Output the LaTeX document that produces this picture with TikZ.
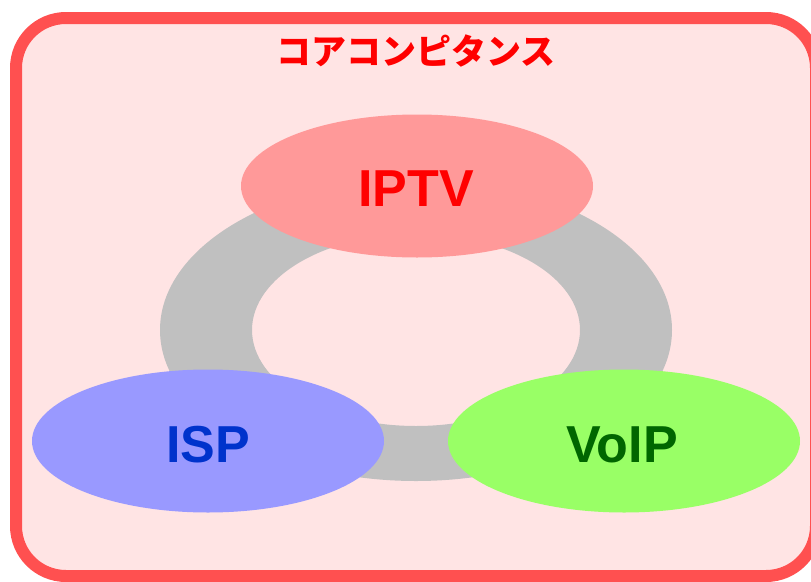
\documentclass[tikz,border=0pt]{standalone}
\usepackage{fontspec}
\setmainfont{Liberation Sans}
\newfontfamily\cjkfont{Noto Sans CJK JP}
\usetikzlibrary{shapes.geometric}
\definecolor{framered}{RGB}{255,80,80}
\definecolor{framefill}{RGB}{255,228,228}
\definecolor{ringgray}{RGB}{192,192,192}
\definecolor{iptvfill}{RGB}{255,153,153}
\definecolor{ispfill}{RGB}{153,153,255}
\definecolor{voipfill}{RGB}{153,255,102}
\definecolor{isptext}{RGB}{0,51,204}
\definecolor{voiptext}{RGB}{0,102,0}
\tikzset{
  blob/.style={ellipse, draw=none, minimum width=352pt, minimum height=143pt, inner sep=0pt},
  blobtext/.style={font=\fontsize{52}{58}\selectfont\bfseries},
}
\begin{document}
\begin{tikzpicture}[x=1pt,y=-1pt]
\useasboundingbox (0,0) rectangle (811,581);
\draw[framered, fill=framefill, line width=12pt, rounded corners=50pt] (16,18) rectangle (816,576);
\node[text=red, font=\cjkfont\fontsize{35}{40}\selectfont\bfseries] (title) at (416,51) {コアコンピタンス};
\fill[ringgray, even odd rule] (416,330) ellipse [x radius=256, y radius=151]
  (416,330) ellipse [x radius=164, y radius=96];
\node[blob, fill=iptvfill] (iptv) at (417,186) {};
\node[blob, fill=ispfill] (isp) at (208,441) {};
\node[blob, fill=voipfill] (voip) at (624,441) {};
\node[blobtext, text=red] (iptvlabel) at (416,189) {IPTV};
\node[blobtext, text=isptext] (isplabel) at (208,445) {ISP};
\node[blobtext, text=voiptext] (voiplabel) at (622,445) {VoIP};
\end{tikzpicture}
\end{document}
